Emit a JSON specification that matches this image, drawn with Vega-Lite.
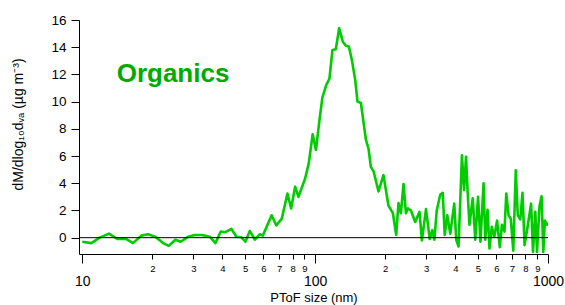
{
  "$schema": "https://vega.github.io/schema/vega-lite/v6.json",
  "width": 469,
  "height": 234,
  "autosize": {"type": "none"},
  "padding": {"left": 79, "top": 20, "right": 17, "bottom": 51},
  "background": "white",
  "config": {
    "view": {"stroke": null},
    "font": "Liberation Sans",
    "axis": {
      "grid": false,
      "domainColor": "black",
      "tickColor": "black",
      "labelColor": "black",
      "titleColor": "black",
      "titleFontWeight": "normal",
      "domainWidth": 1,
      "tickWidth": 1,
      "labelFont": "Liberation Sans",
      "titleFont": "Liberation Sans"
    }
  },
  "datasets": {
    "pm": [
      {"size": 10.0, "dM": -0.3}, {"size": 10.93, "dM": -0.4}, {"size": 11.88, "dM": 0}, {"size": 13.02, "dM": 0.3},
      {"size": 14.14, "dM": -0.1}, {"size": 15.46, "dM": -0.1}, {"size": 16.52, "dM": -0.4}, {"size": 17.93, "dM": 0.15},
      {"size": 19.16, "dM": 0.25}, {"size": 20.59, "dM": 0.07}, {"size": 22.23, "dM": -0.4}, {"size": 23.51, "dM": -0.6},
      {"size": 25.1, "dM": -0.15}, {"size": 26.48, "dM": -0.3}, {"size": 28.46, "dM": 0.07}, {"size": 30.41, "dM": 0.2},
      {"size": 32.68, "dM": 0.2}, {"size": 35.28, "dM": 0.07}, {"size": 37.29, "dM": -0.4}, {"size": 39.33, "dM": 0.45},
      {"size": 41.17, "dM": 0.4}, {"size": 43.68, "dM": 0.65}, {"size": 45.9, "dM": 0.07}, {"size": 48.24, "dM": 0.03},
      {"size": 50.18, "dM": -0.3}, {"size": 52.41, "dM": 0.5}, {"size": 55.07, "dM": -0.15}, {"size": 57.75, "dM": 0.25},
      {"size": 59.61, "dM": 0.15}, {"size": 65.04, "dM": 1.65}, {"size": 68.13, "dM": 0.9}, {"size": 71.92, "dM": 1.4},
      {"size": 76.03, "dM": 3.25}, {"size": 78.86, "dM": 2.15}, {"size": 82.05, "dM": 3.75}, {"size": 84.76, "dM": 3.0},
      {"size": 90.58, "dM": 4.35}, {"size": 93.96, "dM": 5.5}, {"size": 97.57, "dM": 7.6}, {"size": 100.8, "dM": 6.45},
      {"size": 104.3, "dM": 8.6}, {"size": 107.4, "dM": 10.3}, {"size": 111.5, "dM": 11.2}, {"size": 115.2, "dM": 11.7},
      {"size": 118.7, "dM": 13.8}, {"size": 122.7, "dM": 13.85}, {"size": 126.8, "dM": 15.4}, {"size": 131.5, "dM": 14.4},
      {"size": 135.5, "dM": 14.1}, {"size": 139.6, "dM": 14.05}, {"size": 143.8, "dM": 13.05}, {"size": 148.6, "dM": 11.6},
      {"size": 152.0, "dM": 10.0}, {"size": 157.2, "dM": 9.9}, {"size": 161.3, "dM": 8.5}, {"size": 165.2, "dM": 7.2},
      {"size": 169.5, "dM": 6.55}, {"size": 173.5, "dM": 5.2}, {"size": 178.4, "dM": 4.85}, {"size": 187.1, "dM": 3.4},
      {"size": 196.5, "dM": 4.6}, {"size": 206.5, "dM": 2.35}, {"size": 215.7, "dM": 1.8}, {"size": 222.9, "dM": 0.2},
      {"size": 228.0, "dM": 2.55}, {"size": 233.5, "dM": 1.8}, {"size": 239.6, "dM": 3.95}, {"size": 245.4, "dM": 1.8},
      {"size": 250.3, "dM": 2.15}, {"size": 257.8, "dM": 2.0}, {"size": 269.0, "dM": 1.15}, {"size": 280.7, "dM": 1.9},
      {"size": 287.4, "dM": -0.2}, {"size": 299.3, "dM": 2.1}, {"size": 310.5, "dM": -0.1}, {"size": 318.6, "dM": 0.55},
      {"size": 325.0, "dM": -0.15}, {"size": 332.8, "dM": 2.0}, {"size": 344.5, "dM": 3.15}, {"size": 353.1, "dM": 3.3},
      {"size": 360.2, "dM": 0.2}, {"size": 369.3, "dM": 1.65}, {"size": 380.4, "dM": 0.3}, {"size": 395.7, "dM": 2.5},
      {"size": 403.6, "dM": -0.15}, {"size": 412.9, "dM": -0.65}, {"size": 427.0, "dM": 6.05}, {"size": 436.0, "dM": 3.5},
      {"size": 444.6, "dM": 5.95}, {"size": 451.3, "dM": 3.5}, {"size": 459.9, "dM": 0.95}, {"size": 475.1, "dM": 2.9},
      {"size": 487.1, "dM": -0.15}, {"size": 500.7, "dM": 3.0}, {"size": 512.8, "dM": -0.3}, {"size": 528.8, "dM": 4.0},
      {"size": 537.7, "dM": -0.15}, {"size": 550.1, "dM": 2.05}, {"size": 560.5, "dM": -0.8}, {"size": 573.5, "dM": 0.8},
      {"size": 587.8, "dM": 0.05}, {"size": 604.3, "dM": 1.25}, {"size": 620.7, "dM": -0.7}, {"size": 634.3, "dM": 0.95},
      {"size": 650.3, "dM": 0.45}, {"size": 661.9, "dM": 3.25}, {"size": 677.2, "dM": 1.65}, {"size": 692.0, "dM": 1.4},
      {"size": 709.4, "dM": -0.95}, {"size": 727.1, "dM": 4.95}, {"size": 741.7, "dM": 1.65}, {"size": 760.2, "dM": 1.35},
      {"size": 777.0, "dM": 3.3}, {"size": 793.3, "dM": -0.55}, {"size": 817.2, "dM": 0.8}, {"size": 846.1, "dM": 2.5},
      {"size": 862.1, "dM": -1.05}, {"size": 882.0, "dM": 1.9}, {"size": 897.0, "dM": -1.05}, {"size": 919.4, "dM": 2.3},
      {"size": 938.6, "dM": 3.05}, {"size": 954.5, "dM": -1.05}, {"size": 969.9, "dM": 1.25}, {"size": 991.2, "dM": 0.95},
      {"size": 1000, "dM": 1.1}
    ]
  },
  "layer": [
    {
      "data": {"name": "pm"},
      "mark": {"type": "line", "color": "#00cc00", "strokeWidth": 2.6, "clip": true, "strokeJoin": "round"},
      "encoding": {
        "x": {
          "field": "size",
          "type": "quantitative",
          "scale": {"type": "log", "domain": [9.68, 1000], "nice": false},
          "axis": {
            "title": "PToF size (nm)",
            "titleFontSize": 13,
            "titleY": 43,
            "titleBaseline": "middle",
            "values": [10, 20, 30, 40, 50, 60, 70, 80, 90, 100, 200, 300, 400, 500, 600, 700, 800, 900, 1000],
            "labelExpr": "indexof([10,100,1000], datum.value) >= 0 ? '' + datum.value : '' + (datum.value < 100 ? datum.value / 10 : datum.value / 100)",
            "tickSize": {"condition": {"test": "indexof([10,100,1000], datum.value) >= 0", "value": 9}, "value": 5},
            "labelPadding": {"condition": {"test": "indexof([10,100,1000], datum.value) >= 0", "value": 11}, "value": 4},
            "labelFontSize": {"condition": {"test": "indexof([10,100,1000], datum.value) >= 0", "value": 14}, "value": 9.5},
            "labelFlush": false,
            "labelOverlap": false,
            "labelBound": false
          }
        },
        "y": {
          "field": "dM",
          "type": "quantitative",
          "scale": {"domain": [-1.2, 16], "nice": false, "zero": false},
          "axis": {
            "title": "dM/dlog₁₀dᵥₐ (µg m⁻³)",
            "titleFontSize": 14,
            "titleAngle": -90,
            "titleX": -61,
            "titleY": 104,
            "titleAlign": "center",
            "titleBaseline": "middle",
            "values": [0, 2, 4, 6, 8, 10, 12, 14, 16],
            "tickSize": 8,
            "labelPadding": 5,
            "labelFontSize": 13.5,
            "labelOverlap": false,
            "labelBound": false,
            "labelFlush": false
          }
        }
      }
    },
    {
      "data": {"values": [{"dM": 0}]},
      "mark": {"type": "rule", "color": "black", "strokeWidth": 1},
      "encoding": {
        "y": {
          "field": "dM",
          "type": "quantitative",
          "axis": {
            "title": "dM/dlog₁₀dᵥₐ (µg m⁻³)",
            "titleFontSize": 14,
            "titleAngle": -90,
            "titleX": -61,
            "titleY": 104,
            "titleAlign": "center",
            "titleBaseline": "middle",
            "values": [0, 2, 4, 6, 8, 10, 12, 14, 16],
            "tickSize": 8,
            "labelPadding": 5,
            "labelFontSize": 13.5,
            "labelOverlap": false,
            "labelBound": false,
            "labelFlush": false
          }
        }
      }
    },
    {
      "data": {"values": [{"label": "Organics", "size": 14.05, "dM": 12.0}]},
      "mark": {"type": "text", "font": "Liberation Sans", "fontWeight": "bold", "fontSize": 26, "color": "#00aa00", "align": "left", "baseline": "middle"},
      "encoding": {
        "x": {
          "field": "size",
          "type": "quantitative",
          "axis": {
            "title": "PToF size (nm)",
            "titleFontSize": 13,
            "titleY": 43,
            "titleBaseline": "middle",
            "values": [10, 20, 30, 40, 50, 60, 70, 80, 90, 100, 200, 300, 400, 500, 600, 700, 800, 900, 1000],
            "labelExpr": "indexof([10,100,1000], datum.value) >= 0 ? '' + datum.value : '' + (datum.value < 100 ? datum.value / 10 : datum.value / 100)",
            "tickSize": {"condition": {"test": "indexof([10,100,1000], datum.value) >= 0", "value": 9}, "value": 5},
            "labelPadding": {"condition": {"test": "indexof([10,100,1000], datum.value) >= 0", "value": 11}, "value": 4},
            "labelFontSize": {"condition": {"test": "indexof([10,100,1000], datum.value) >= 0", "value": 14}, "value": 9.5},
            "labelFlush": false,
            "labelOverlap": false,
            "labelBound": false
          }
        },
        "y": {
          "field": "dM",
          "type": "quantitative",
          "axis": {
            "title": "dM/dlog₁₀dᵥₐ (µg m⁻³)",
            "titleFontSize": 14,
            "titleAngle": -90,
            "titleX": -61,
            "titleY": 104,
            "titleAlign": "center",
            "titleBaseline": "middle",
            "values": [0, 2, 4, 6, 8, 10, 12, 14, 16],
            "tickSize": 8,
            "labelPadding": 5,
            "labelFontSize": 13.5,
            "labelOverlap": false,
            "labelBound": false,
            "labelFlush": false
          }
        },
        "text": {"field": "label"}
      }
    }
  ]
}
